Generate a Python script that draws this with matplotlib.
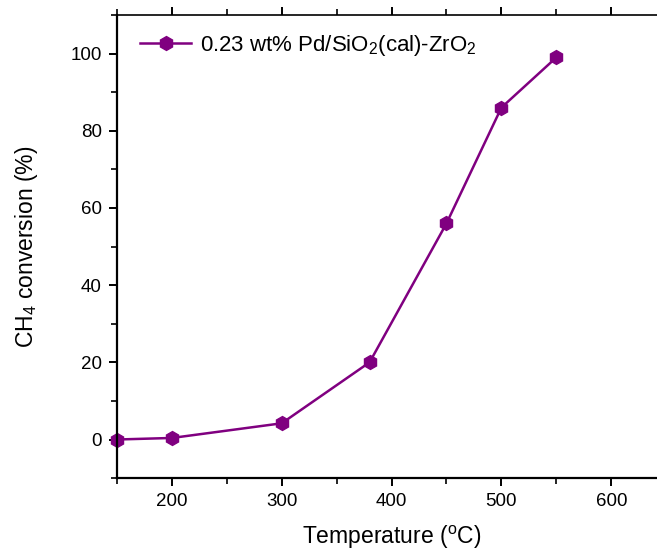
import numpy as np
import matplotlib
matplotlib.use('Agg')
import matplotlib.pyplot as plt
from matplotlib.ticker import MultipleLocator

plt.rcParams['font.family'] = ['Liberation Sans', 'DejaVu Sans']
plt.rcParams['mathtext.default'] = 'regular'

temperature = [150, 200, 300, 380, 450, 500, 550]
conversion = [0.0, 0.4, 4.2, 20.0, 56.0, 86.0, 99.0]
series_label = '0.23 wt% Pd/SiO$_2$(cal)-ZrO$_2$'

fig = plt.figure(figsize=(6.57, 5.54), dpi=100)
ax = fig.add_axes([0.178, 0.137, 0.836, 0.836])

ax.plot(temperature, conversion, color='#800080', lw=1.8, marker='h',
        markersize=10, clip_on=False, label=series_label)

ax.set_xlim(150, 650)
ax.set_ylim(-10, 110)
ax.xaxis.set_major_locator(MultipleLocator(100))
ax.xaxis.set_minor_locator(MultipleLocator(50))
ax.yaxis.set_major_locator(MultipleLocator(20))
ax.yaxis.set_minor_locator(MultipleLocator(10))
ax.set_xticks([200, 300, 400, 500, 600])
ax.set_yticks([0, 20, 40, 60, 80, 100])

for side in ['left', 'bottom']:
    ax.spines[side].set_linewidth(1.6)
ax.spines['top'].set_linewidth(1.2)
ax.spines['right'].set_visible(False)

ax.tick_params(which='major', direction='out', length=6, width=1.4,
               labelsize=13.5, pad=5)
ax.tick_params(which='minor', direction='out', length=4, width=1.2)
ax.tick_params(axis='x', which='both', top=True)
ax.tick_params(axis='x', which='both', labeltop=False)

ax.set_xlabel('Temperature ($^{o}$C)', fontsize=16.5, labelpad=10)
ax.set_ylabel('CH$_4$ conversion (%)', fontsize=16.5, labelpad=22)

ax.legend(loc='upper left', frameon=False, fontsize=16, handlelength=2.3,
          handletextpad=0.4, borderaxespad=0.4, bbox_to_anchor=(0.01, 1.0))

fig.savefig('out.png', dpi=100)
